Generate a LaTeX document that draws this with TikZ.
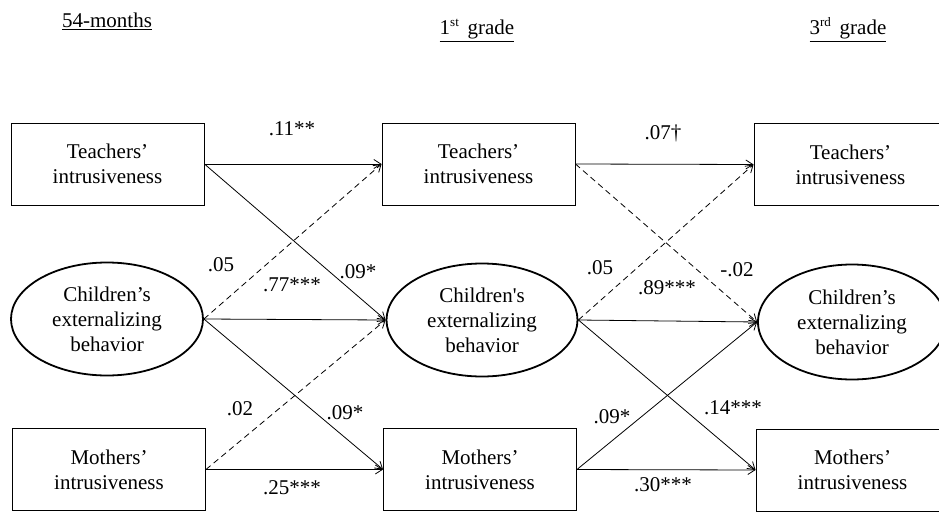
\documentclass[tikz,border=0pt]{standalone}
\usepackage{fontspec}
\setmainfont{Liberation Serif}
\usetikzlibrary{shapes.geometric, arrows.meta}

\newcommand{\ordsup}[1]{\raisebox{9pt}{\fontsize{13}{13}\selectfont #1}}

\tikzset{
  varbox/.style={draw, rectangle, line width=0.9pt, minimum width=193pt, minimum height=82pt, align=center, inner sep=0pt},
  latent/.style={draw, ellipse, line width=1.8pt, minimum width=192pt, minimum height=113pt, align=center, inner sep=0pt},
  effect/.style={-{Straight Barb[length=7pt, width=9pt]}, line width=0.8pt},
  nseffect/.style={effect, dash pattern=on 6pt off 4pt},
  wave/.style={anchor=base}
}

\begin{document}
\begin{tikzpicture}[x=1pt, y=-1pt, every node/.style={font=\fontsize{21}{25}\selectfont}]
  \useasboundingbox (0,0) rectangle (939,511);
  % waves
  \node[wave] (w1) at (107,28) {\underline{54-months}};
  \node[wave] (w2) at (477,35) {\underline{1\ordsup{st}\ \,grade}};
  \node[wave] (w3) at (848,35) {\underline{3\ordsup{rd}\ \,grade}};
  % 54 months
  \node[varbox] (t1) at (107.5,164) {Teachers’\\intrusiveness};
  \node[latent] (c1) at (107,319) {Children’s\\externalizing\\behavior};
  \node[varbox] (m1) at (109,469.5) {Mothers’\\intrusiveness};
  % 1st grade
  \node[varbox] (t2) at (478.5,164) {Teachers’\\intrusiveness};
  \node[latent, minimum width=191pt] (c2) at (482,320) {Children\textquotesingle s\\externalizing\\behavior};
  \node[varbox] (m2) at (480,469.5) {Mothers’\\intrusiveness};
  % 3rd grade
  \node[varbox] (t3) at (850.5,164.5) {Teachers’\\intrusiveness};
  \node[latent, minimum width=188pt, minimum height=115pt] (c3) at (852,322) {Children’s\\externalizing\\behavior};
  \node[varbox] (m3) at (852.5,470) {Mothers’\\intrusiveness};
  % paths 54 months -> 1st grade
  \draw[effect] (t1.east) -- (t2.west);
  \draw[effect] (t1.east) -- (c2.west);
  \draw[nseffect] (c1.east) -- (t2.west);
  \draw[effect] (c1.east) -- (c2.west);
  \draw[effect] (c1.east) -- (m2.west);
  \draw[nseffect] (m1.east) -- (c2.west);
  \draw[effect] (m1.east) -- (m2.west);
  % paths 1st grade -> 3rd grade
  \draw[effect] (t2.east) -- (t3.west);
  \draw[nseffect] (t2.east) -- (c3.west);
  \draw[nseffect] (c2.east) -- (t3.west);
  \draw[effect] (c2.east) -- (c3.west);
  \draw[effect] (c2.east) -- (m3.west);
  \draw[effect] (m2.east) -- (c3.west);
  \draw[effect] (m2.east) -- (m3.west);
  % coefficients
  \node (b1) at (292,129) {.11**};
  \node (b2) at (221,265) {.05};
  \node (b3) at (292,285) {.77***};
  \node (b4) at (358,272) {.09*};
  \node (b5) at (240,409) {.02};
  \node (b6) at (345,413) {.09*};
  \node (b7) at (292,488) {.25***};
  \node (b8) at (663,133) {.07\textdagger};
  \node (b9) at (600,268) {.05};
  \node (b10) at (737,270) {-.02};
  \node (b11) at (667,288) {.89***};
  \node (b12) at (612,417) {.09*};
  \node (b13) at (733,408) {.14***};
  \node (b14) at (663,485) {.30***};
\end{tikzpicture}
\end{document}
